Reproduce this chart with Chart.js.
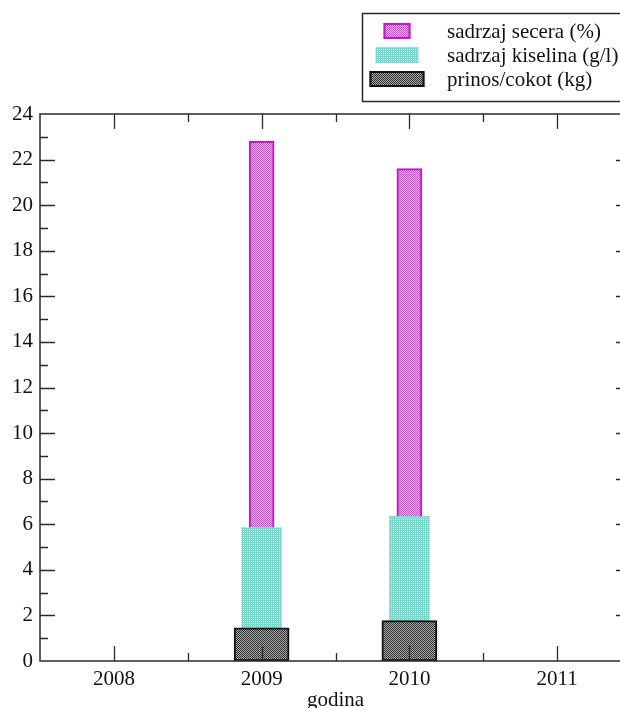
<!DOCTYPE html>
<html>
<head>
<meta charset="utf-8">
<script src="https://cdn.jsdelivr.net/npm/chart.js@4.4.1/dist/chart.umd.min.js"></script>
<style>
  html, body { margin: 0; padding: 0; overflow: hidden; background: #fff; }
  #wrap { width: 660px; height: 708px; }
</style>
</head>
<body>
<div id="wrap"><canvas id="c" width="660" height="708"></canvas></div>
<script>
// ---- data ----
const years = [2009, 2010];
const secera = [22.8, 21.6];      // sadrzaj secera (%)
const kiselina = [5.85, 6.35];    // sadrzaj kiselina (g/l)
const prinos = [1.45, 1.77];      // prinos/cokot (kg)
const seriesNames = ['sadrzaj secera (%)', 'sadrzaj kiselina (g/l)', 'prinos/cokot (kg)'];
const xTickLabels = [2008, 2009, 2010, 2011];
const yTickLabels = [0, 2, 4, 6, 8, 10, 12, 14, 16, 18, 20, 22, 24];

function makePattern(cells, size) {
  const c = document.createElement('canvas');
  c.width = size; c.height = size;
  const g = c.getContext('2d');
  cells.forEach(([x, y, col]) => { g.fillStyle = col; g.fillRect(x, y, 1, 1); });
  return document.getElementById('c').getContext('2d').createPattern(c, 'repeat');
}
const pinkPat = makePattern([[0,0,'#d048d8'],[1,1,'#d048d8'],[1,0,'#f2b4f2'],[0,1,'#f2b4f2']], 2);
const cyanPat = makePattern([[0,0,'#78d6ca'],[1,0,'#78d6ca'],[0,1,'#78d6ca'],[1,1,'#c4eee8']], 2);
const blackPat = makePattern([[0,0,'#2e2e2e'],[1,1,'#2e2e2e'],[1,0,'#ababab'],[0,1,'#ababab']], 2);

const FONT = "'Liberation Serif', 'Times New Roman', serif";
const FS = 21;
const INK = '#2a2a2a';

const barStyles = [
  { fill: pinkPat, border: '#cc10cc', bw: 2, thick: 25 },
  { fill: cyanPat, border: '#8ad9cf', bw: 0, thick: 40 },
  { fill: blackPat, border: '#111111', bw: 2, thick: 55 }
];

const seriesData = [secera, kiselina, prinos];

const framePlugin = {
  id: 'frame',
  afterDraw(chart) {
    const { ctx, chartArea: a, scales: { x, y } } = chart;
    ctx.save();
    ctx.strokeStyle = INK;
    ctx.lineWidth = 1.5;
    ctx.strokeRect(a.left, a.top, a.right - a.left, a.bottom - a.top);
    ctx.lineWidth = 1.3;
    ctx.beginPath();
    for (let v = 0; v <= 24; v++) {
      const py = Math.round(y.getPixelForValue(v)) + 0.5;
      const len = (v % 2 === 0) ? 15 : 8;
      if (v === 0 || v === 24) continue;
      ctx.moveTo(a.left, py); ctx.lineTo(a.left + len, py);
      ctx.moveTo(a.right, py); ctx.lineTo(a.right - len, py);
    }
    for (let v = 2008; v <= 2011; v += 0.5) {
      const px = Math.round(x.getPixelForValue(v)) + 0.5;
      const len = Number.isInteger(v) ? 15 : 8;
      ctx.moveTo(px, a.bottom); ctx.lineTo(px, a.bottom - len);
      ctx.moveTo(px, a.top); ctx.lineTo(px, a.top + len);
    }
    ctx.stroke();
    ctx.restore();
  }
};

const legendPlugin = {
  id: 'boxLegend',
  afterDraw(chart) {
    const { ctx } = chart;
    ctx.save();
    ctx.fillStyle = '#fff';
    ctx.fillRect(362, 13, 300, 89);
    ctx.strokeStyle = INK;
    ctx.lineWidth = 1.5;
    ctx.strokeRect(362.5, 13.5, 300, 88);
    const rows = [{ cy: 31, h: 16 }, { cy: 55, h: 16 }, { cy: 79, h: 16 }];
    const widths = [27, 43, 55];
    rows.forEach((r, i) => {
      const s = barStyles[i];
      const w = widths[i];
      const x0 = 397 - w / 2, y0 = r.cy - r.h / 2;
      ctx.fillStyle = s.fill;
      ctx.fillRect(x0, y0, w, r.h);
      if (s.bw) {
        ctx.strokeStyle = s.border;
        ctx.lineWidth = s.bw;
        ctx.strokeRect(x0 + 1, y0 + 1, w - 2, r.h - 2);
      }
      ctx.fillStyle = '#111';
      ctx.font = FS + 'px ' + FONT;
      ctx.textBaseline = 'alphabetic';
      ctx.textAlign = 'left';
      ctx.fillText(seriesNames[i], 447, r.cy + 7);
    });
    ctx.restore();
  }
};

const datasets = seriesData.map((vals, i) => ({
  label: seriesNames[i],
  data: years.map((yr, j) => ({ x: yr, y: vals[j] })),
  backgroundColor: barStyles[i].fill,
  borderColor: barStyles[i].border,
  borderWidth: barStyles[i].bw,
  borderSkipped: false,
  barThickness: barStyles[i].thick,
  grouped: false,
  order: 3 - i
}));

new Chart(document.getElementById('c'), {
  type: 'bar',
  data: { datasets },
  options: {
    responsive: false,
    animation: false,
    devicePixelRatio: 1,
    layout: { padding: { top: 114, right: 29, left: 0, bottom: 0 } },
    plugins: { legend: { display: false }, tooltip: { enabled: false } },
    scales: {
      x: {
        type: 'linear',
        min: 2007.5,
        max: 2011.5,
        offset: false,
        grid: { display: false, drawTicks: false },
        border: { display: false },
        afterBuildTicks(s) { s.ticks = xTickLabels.map(v => ({ value: v })); },
        afterFit(s) { s.height = 47; },
        ticks: {
          color: '#111',
          font: { family: FONT, size: FS },
          padding: 6,
          maxRotation: 0,
          autoSkip: false,
          callback: v => String(v)
        },
        title: {
          display: true,
          text: 'godina',
          color: '#111',
          font: { family: FONT, size: FS, lineHeight: 0.7 },
          padding: { top: 0, bottom: 0 }
        }
      },
      y: {
        min: 0,
        max: 24,
        grid: { display: false, drawTicks: false },
        border: { display: false },
        afterBuildTicks(s) { s.ticks = yTickLabels.map(v => ({ value: v })); },
        afterFit(s) { s.width = 40; },
        ticks: {
          color: '#111',
          font: { family: FONT, size: FS },
          padding: 7,
          autoSkip: false
        }
      }
    }
  },
  plugins: [framePlugin, legendPlugin]
});
</script>
</body>
</html>
